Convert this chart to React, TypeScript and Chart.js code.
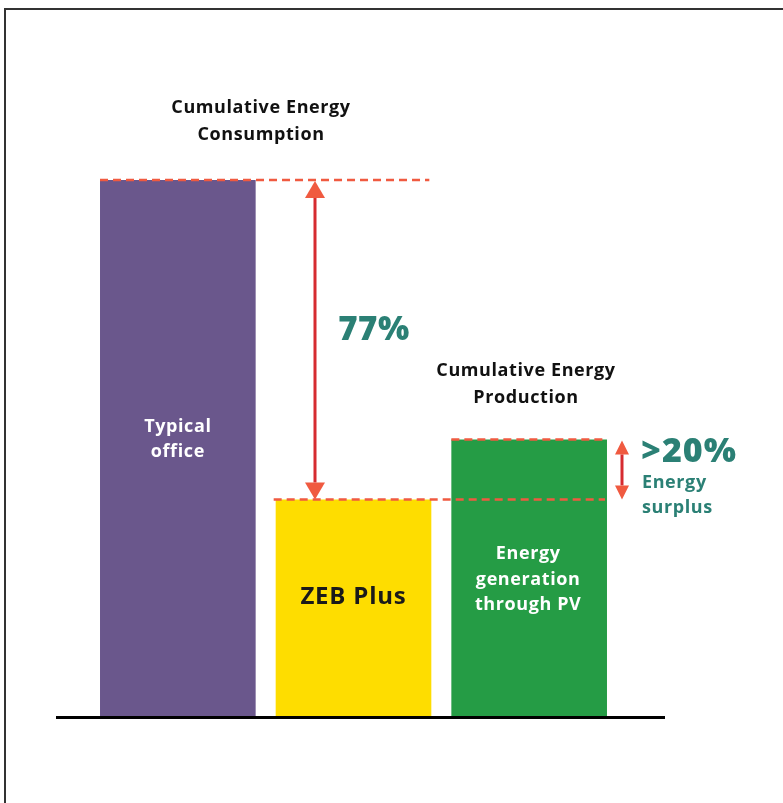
import React, { useEffect, useRef } from "react";
import { Chart, registerables } from "chart.js";

Chart.register(...registerables);

const categories = ["Typical office", "ZEB Plus", "Energy generation through PV"];
const barLabels = [["Typical", "office"], ["ZEB Plus"], ["Energy", "generation", "through PV"]];
const values = [100, 40.4, 51.6];
const barColors = ["#6a578c", "#fedd00", "#259c45"];
const groupTitles = [["Cumulative Energy", "Consumption"], ["Cumulative Energy", "Production"]];
const reductionLabel = "77%";
const surplusLabel = ">20%";
const surplusSub = ["Energy", "surplus"];

const FONT = "'Open Sans', sans-serif";

const decorPlugin = {
  id: "decor",
  beforeDraw(chart: any) {
    const ctx = chart.ctx;
    ctx.save();
    ctx.fillStyle = "#ffffff";
    ctx.fillRect(0, 0, chart.width, chart.height);
    ctx.restore();
  },
  afterDatasetsDraw(chart: any) {
    const ctx = chart.ctx;
    const meta = chart.getDatasetMeta(0);
    const bars = meta.data.map((b: any) => {
      const p = b.getProps(["x", "y", "base", "width"], true);
      return { left: p.x - p.width / 2, right: p.x + p.width / 2, top: p.y, base: p.base, cx: p.x };
    });
    const [b0, b1, b2] = bars;
    ctx.save();

    // frame
    ctx.strokeStyle = "#333333";
    ctx.lineWidth = 2;
    ctx.beginPath();
    ctx.moveTo(5, 803);
    ctx.lineTo(5, 9);
    ctx.lineTo(783, 9);
    ctx.stroke();

    // baseline
    ctx.fillStyle = "#000000";
    ctx.fillRect(56, b0.base, 609, 3);

    // dashed lines
    ctx.strokeStyle = "#f05a40";
    ctx.lineWidth = 2.5;
    ctx.setLineDash([8, 5]);
    const dash = (x1: number, x2: number, y: number) => {
      ctx.beginPath();
      ctx.moveTo(x1, y);
      ctx.lineTo(x2, y);
      ctx.stroke();
    };
    dash(b0.left, b1.right - 2, b0.top);
    dash(b1.left - 2, b2.right - 2, b1.top);
    dash(b2.left, b2.right - 2, b2.top);
    ctx.setLineDash([]);

    // arrows
    const arrow = (x: number, y1: number, y2: number, hw: number, hh: number) => {
      ctx.strokeStyle = "#d62b30";
      ctx.lineWidth = 3;
      ctx.beginPath();
      ctx.moveTo(x, y1 + hh);
      ctx.lineTo(x, y2 - hh);
      ctx.stroke();
      ctx.fillStyle = "#f05a40";
      ctx.beginPath();
      ctx.moveTo(x, y1);
      ctx.lineTo(x - hw, y1 + hh);
      ctx.lineTo(x + hw, y1 + hh);
      ctx.closePath();
      ctx.fill();
      ctx.beginPath();
      ctx.moveTo(x, y2);
      ctx.lineTo(x - hw, y2 - hh);
      ctx.lineTo(x + hw, y2 - hh);
      ctx.closePath();
      ctx.fill();
    };
    arrow(315, b0.top + 1, b1.top, 10, 17);
    arrow(622, b2.top + 1, b1.top, 7, 14);

    // texts
    ctx.textAlign = "center";
    ctx.textBaseline = "middle";
    ctx.fillStyle = "#111111";
    ctx.font = `700 18px ${FONT}`;
    ctx.letterSpacing = "0.6px";
    groupTitles[0].forEach((t, i) => ctx.fillText(t, 261, 108 + i * 27));
    groupTitles[1].forEach((t, i) => ctx.fillText(t, 526, 371 + i * 27));

    ctx.fillStyle = "#ffffff";
    barLabels[0].forEach((t, i) => ctx.fillText(t, b0.cx, 427 + i * 25));
    barLabels[2].forEach((t, i) => ctx.fillText(t, b2.cx - 1, 554 + i * 25.5));
    ctx.fillStyle = "#1a1a1a";
    ctx.font = `700 24px ${FONT}`;
    ctx.letterSpacing = "0.8px";
    ctx.fillText(barLabels[1][0], b1.cx, 597);

    ctx.fillStyle = "#2b8075";
    ctx.font = `800 33px ${FONT}`;
    ctx.letterSpacing = "0.5px";
    ctx.fillText(reductionLabel, 374, 331);
    ctx.textAlign = "left";
    ctx.font = `800 34px ${FONT}`;
    ctx.letterSpacing = "1px";
    ctx.fillText(surplusLabel, 641, 452);
    ctx.font = `700 18px ${FONT}`;
    ctx.letterSpacing = "0.6px";
    surplusSub.forEach((t, i) => ctx.fillText(t, 642, 483 + i * 25));

    ctx.restore();
  },
};

export default function App() {
  const ref = useRef<HTMLCanvasElement | null>(null);
  useEffect(() => {
    document.body.style.margin = "0";
    if (!ref.current) return;
    const chart = new Chart(ref.current, {
      type: "bar",
      data: {
        labels: categories,
        datasets: [
          {
            data: values,
            backgroundColor: barColors,
            borderWidth: 0,
            barPercentage: 0.886,
            categoryPercentage: 1,
          },
        ],
      },
      options: {
        animation: false,
        responsive: false,
        maintainAspectRatio: false,
        layout: { padding: { left: 90, right: 166, top: 180, bottom: 87 } },
        plugins: { legend: { display: false }, tooltip: { enabled: false }, title: { display: false } },
        scales: {
          x: { display: false },
          y: { display: false, min: 0, max: 100 },
        },
      },
      plugins: [decorPlugin],
    });
    return () => chart.destroy();
  }, []);
  return (
    <div style={{ width: 783, height: 803 }}>
      <canvas ref={ref} width={783} height={803} style={{ display: "block" }} />
    </div>
  );
}
